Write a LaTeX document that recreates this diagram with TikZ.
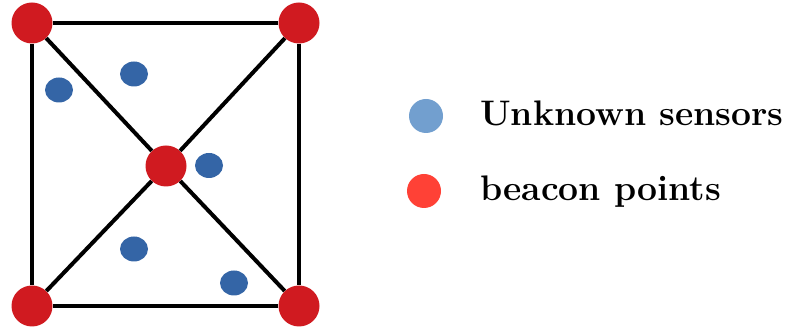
\documentclass[tikz,border=0pt]{standalone}
\usetikzlibrary{positioning,shapes.geometric}
\definecolor{BeaconRed}{HTML}{D01A20}
\definecolor{SensorBlue}{HTML}{3465A6}
\definecolor{KeyBlue}{HTML}{729FCF}
\definecolor{KeyRed}{HTML}{FF4136}
\tikzset{beacon/.style={circle,fill=BeaconRed,minimum size=41pt,inner sep=0pt},sensor/.style={ellipse,fill=SensorBlue,minimum width=28pt,minimum height=25pt,inner sep=0pt},link/.style={draw=black,line width=4pt},keydot/.style={circle,minimum size=34pt,inner sep=0pt},keytext/.style={anchor=base west,inner sep=0pt,font=\fontsize{35.5}{42}\selectfont\bfseries}}

\begin{document}
\begin{tikzpicture}[x=1pt,y=1pt]
\useasboundingbox (0,0) rectangle (789,336);
\node[beacon] (TL) at (32,313) {};
\node[beacon] (TR) at (299,313) {};
\node[beacon] (BL) at (32,30) {};
\node[beacon] (BR) at (299,30) {};
\node[beacon] (C) at (166,170) {};
\draw[link] (TL) -- (TR) -- (BR) -- (BL) -- (TL);
\draw[link] (TL) -- (C) -- (BR);
\draw[link] (TR) -- (C) -- (BL);
\node[sensor] (s1) at (59,246) {};
\node[sensor] (s2) at (134,262) {};
\node[sensor] (s3) at (209,170.5) {};
\node[sensor] (s4) at (134,87) {};
\node[sensor] (s5) at (234,53) {};
% legend
\node[keydot,fill=KeyBlue] (kblue) at (426,220) {};
\node[keydot,fill=KeyRed] (kred) at (424,145) {};
\node[keytext] (tblue) at (480,210) {Unknown sensors};
\node[keytext] (tred) at (480,135.5) {beacon points};
\end{tikzpicture}
\end{document}
